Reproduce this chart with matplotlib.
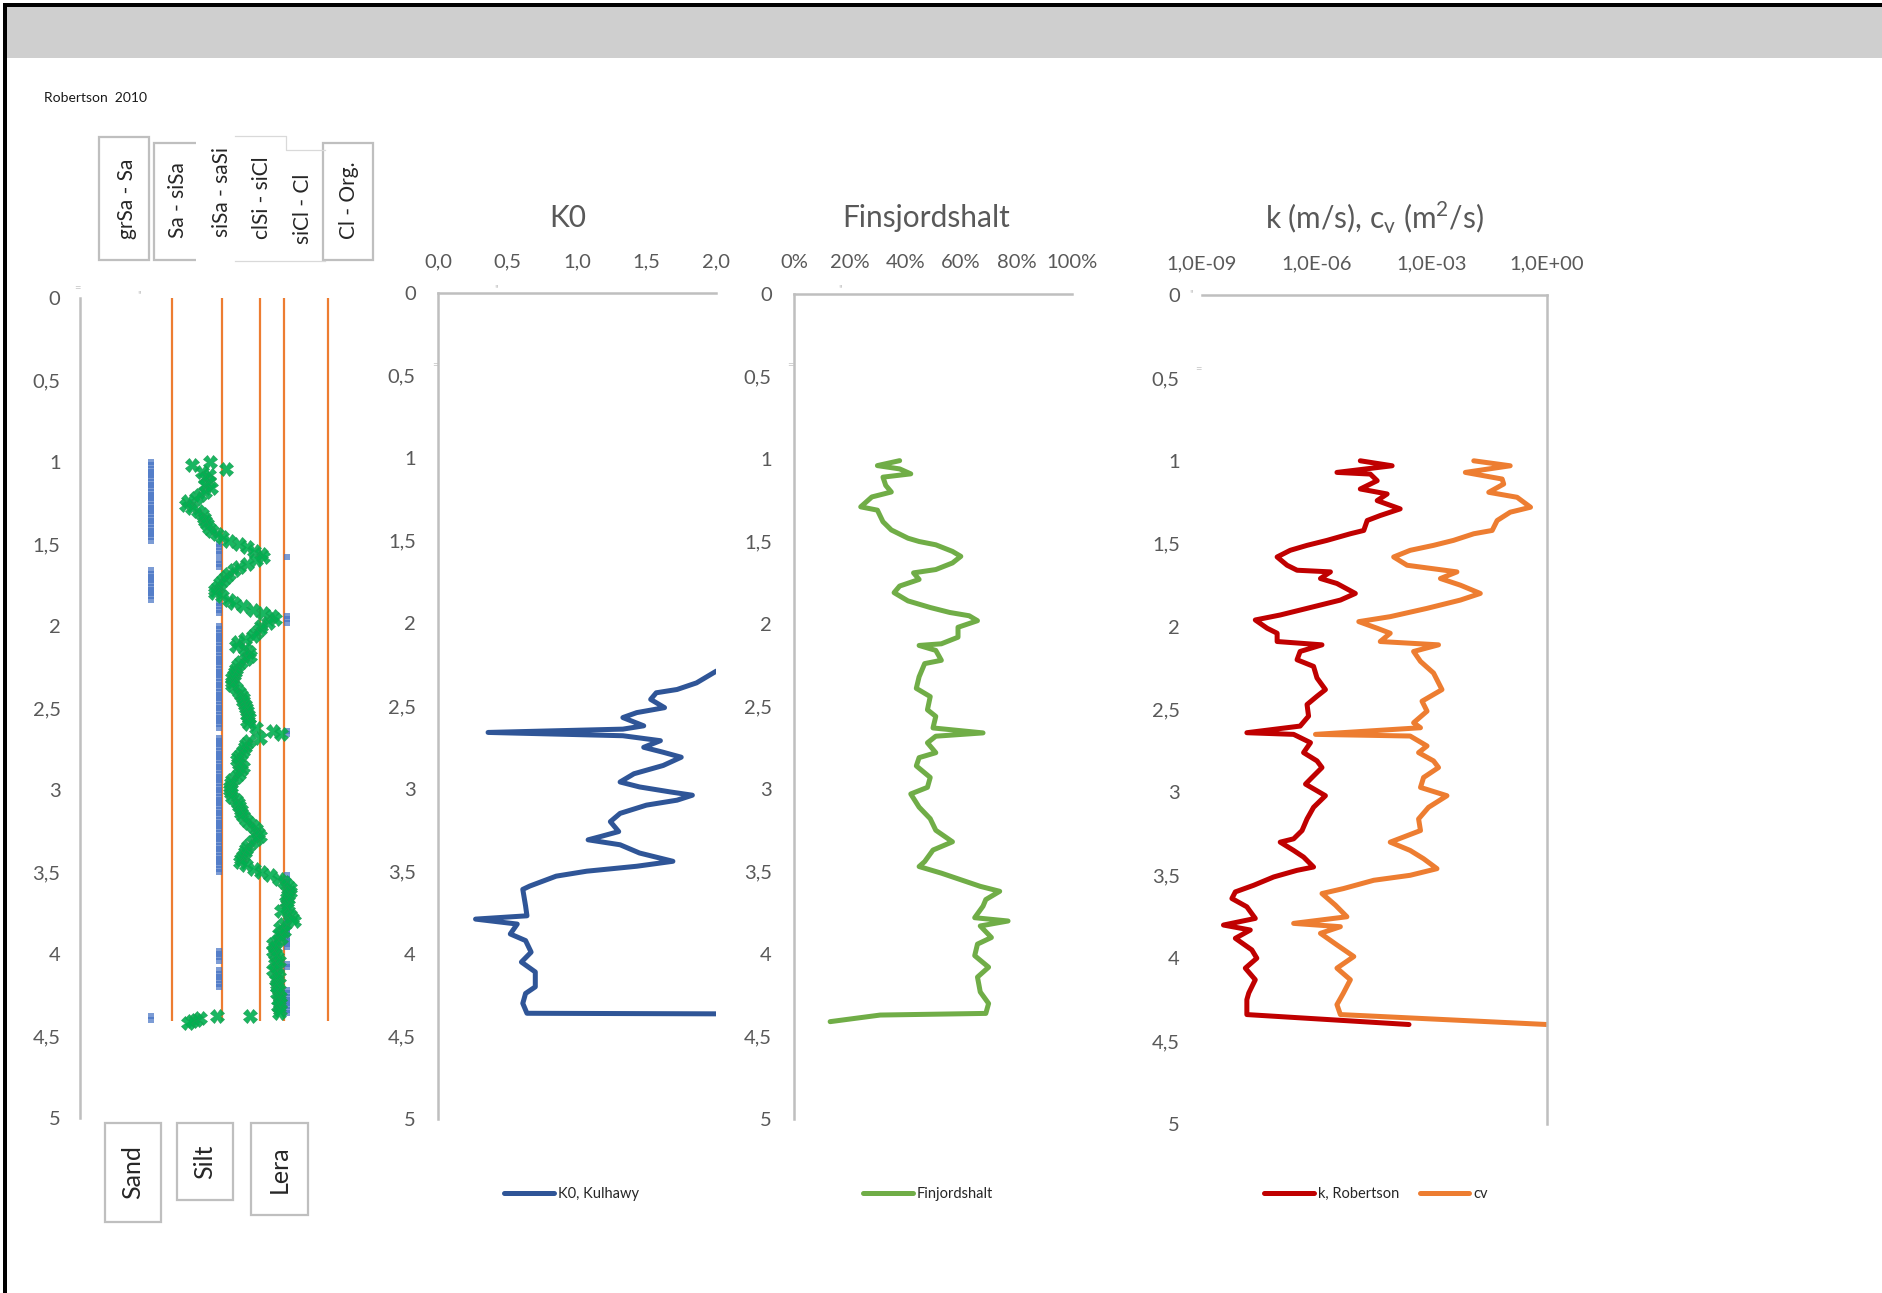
import numpy as np
import matplotlib
matplotlib.use("Agg")
import matplotlib.pyplot as plt
from matplotlib.patches import Rectangle
from matplotlib.lines import Line2D
from matplotlib.ticker import FixedLocator, FuncFormatter

plt.rcParams['font.family'] = ['Lato', 'DejaVu Sans']

# ---- soil behaviour (Robertson 2010), sampled every 0.02 m from 1.00 m ----
# 1 = sand, 2 = silt, 3 = clay ; (class, number of samples)
soil_runs = [(1, 25), (2, 4), (3, 1), (2, 3), (1, 10), (2, 4), (3, 3), (2, 32),
             (3, 2), (2, 42), (3, 23), (2, 4), (3, 2), (2, 6), (3, 8), (1, 2)]
class_depth = np.round(np.arange(1.0, 4.41, 0.02), 2)

# Ic values 1.00 - 4.36 m
ic_values = [
    1.87, 1.60, 2.10, 1.75, 1.85, 1.80, 1.85, 1.80, 1.88, 1.80,
    1.72, 1.66, 1.55, 1.52, 1.60, 1.70, 1.75, 1.78, 1.80, 1.83,
    1.86, 1.90, 1.97, 2.05, 2.15, 2.30, 2.42, 2.52, 2.62, 2.65,
    2.55, 2.42, 2.30, 2.22, 2.15, 2.10, 2.06, 2.02, 1.98, 1.94,
    1.95, 2.05, 2.15, 2.22, 2.35, 2.50, 2.65, 2.78, 2.82, 2.72,
    2.62, 2.60, 2.55, 2.50, 2.38, 2.28, 2.25, 2.38, 2.45, 2.46,
    2.40, 2.33, 2.28, 2.25, 2.24, 2.22, 2.20, 2.19, 2.20, 2.25,
    2.30, 2.33, 2.36, 2.36, 2.38, 2.40, 2.42, 2.43, 2.44, 2.42,
    2.45, 2.55, 2.80, 2.92, 2.60, 2.45, 2.40, 2.38, 2.35, 2.32,
    2.28, 2.26, 2.30, 2.35, 2.33, 2.30, 2.25, 2.20, 2.18, 2.17,
    2.16, 2.18, 2.20, 2.25, 2.28, 2.30, 2.32, 2.33, 2.36, 2.40,
    2.45, 2.50, 2.55, 2.58, 2.60, 2.55, 2.48, 2.43, 2.40, 2.38,
    2.35, 2.32, 2.31, 2.40, 2.52, 2.62, 2.75, 2.88, 2.95, 3.00,
    3.04, 3.05, 3.02, 3.00, 2.98, 3.02, 3.00, 2.92, 3.05, 3.08,
    3.10, 2.95, 2.90, 2.95, 2.88, 2.92, 2.85, 2.80, 2.82, 2.80,
    2.82, 2.85, 2.88, 2.82, 2.85, 2.80, 2.85, 2.88, 2.84, 2.86,
    2.85, 2.88, 2.86, 2.90, 2.88, 2.90, 2.87, 2.90, 2.88,
]
ic_depth = class_depth[:len(ic_values)]
ic_tail_depth = [4.38, 4.38, 4.39, 4.40, 4.41, 4.42]
ic_tail = [2.46, 1.97, 1.72, 1.66, 1.60, 1.54]

ic_bounds = [1.31, 2.05, 2.60, 2.95, 3.60]
ic_bound_depth = 4.41
zone_labels = ['grSa - Sa', 'Sa - siSa', 'siSa - saSi', 'clSi - siCl', 'siCl - Cl', 'Cl - Org.']

# ---- K0 (Kulhawy) ----
k0_depth = [2.20, 2.29, 2.36, 2.40, 2.42, 2.46, 2.51, 2.54, 2.57, 2.62, 2.64, 2.66, 2.68,
            2.71, 2.75, 2.78, 2.81, 2.86, 2.91, 2.96, 2.99, 3.02, 3.04, 3.07, 3.10, 3.15,
            3.20, 3.26, 3.29, 3.31, 3.34, 3.39, 3.44, 3.47, 3.50, 3.53, 3.59, 3.61, 3.71,
            3.77, 3.79, 3.82, 3.88, 3.92, 3.99, 4.05, 4.11, 4.20, 4.24, 4.30, 4.36, 4.365]
k0 = [2.30, 2.00, 1.86, 1.72, 1.57, 1.53, 1.63, 1.43, 1.33, 1.48, 1.33, 0.36, 1.33,
      1.60, 1.48, 1.62, 1.75, 1.62, 1.41, 1.31, 1.45, 1.67, 1.83, 1.72, 1.50, 1.31,
      1.24, 1.30, 1.17, 1.08, 1.31, 1.45, 1.69, 1.43, 1.07, 0.85, 0.66, 0.61, 0.63,
      0.64, 0.27, 0.57, 0.52, 0.63, 0.67, 0.60, 0.70, 0.70, 0.63, 0.61, 0.64, 2.60]

# ---- fines content ----
fines_depth = [1.01, 1.04, 1.06, 1.09, 1.11, 1.16, 1.20, 1.23, 1.29, 1.31, 1.38, 1.43, 1.48,
               1.50, 1.52, 1.56, 1.59, 1.63, 1.67, 1.69, 1.73, 1.77, 1.81, 1.86, 1.90, 1.93,
               1.95, 1.98, 2.02, 2.08, 2.12, 2.13, 2.16, 2.22, 2.24, 2.32, 2.39, 2.44, 2.52,
               2.56, 2.63, 2.66, 2.68, 2.72, 2.78, 2.81, 2.86, 2.93, 2.99, 3.03, 3.11, 3.18,
               3.25, 3.32, 3.37, 3.44, 3.47, 3.51, 3.55, 3.59, 3.62, 3.67, 3.71, 3.78, 3.80,
               3.83, 3.90, 3.94, 4.01, 4.08, 4.14, 4.23, 4.30, 4.36, 4.37, 4.41]
fines = [0.38, 0.30, 0.38, 0.42, 0.32, 0.33, 0.35, 0.28, 0.24, 0.30, 0.32, 0.35, 0.41,
         0.45, 0.51, 0.57, 0.60, 0.57, 0.51, 0.43, 0.45, 0.38, 0.36, 0.41, 0.49, 0.56,
         0.63, 0.66, 0.59, 0.59, 0.53, 0.45, 0.51, 0.53, 0.47, 0.45, 0.44, 0.49, 0.48,
         0.51, 0.50, 0.68, 0.51, 0.48, 0.51, 0.45, 0.44, 0.49, 0.48, 0.42, 0.45, 0.49,
         0.51, 0.57, 0.50, 0.47, 0.45, 0.53, 0.60, 0.67, 0.74, 0.69, 0.68, 0.65, 0.77,
         0.67, 0.71, 0.66, 0.65, 0.70, 0.66, 0.67, 0.70, 0.69, 0.31, 0.13]

# ---- permeability k (m/s) and cv (m2/s), log10 values ----
k_depth = [1.00, 1.03, 1.07, 1.08, 1.12, 1.17, 1.20, 1.24, 1.29, 1.33, 1.36, 1.42, 1.44,
           1.48, 1.51, 1.54, 1.58, 1.63, 1.66, 1.67, 1.71, 1.74, 1.80, 1.84, 1.89, 1.93,
           1.96, 2.01, 2.04, 2.09, 2.11, 2.15, 2.20, 2.24, 2.31, 2.38, 2.42, 2.47, 2.54,
           2.60, 2.64, 2.65, 2.70, 2.76, 2.81, 2.85, 2.91, 2.95, 3.02, 3.09, 3.16, 3.23,
           3.28, 3.30, 3.35, 3.39, 3.45, 3.47, 3.51, 3.56, 3.60, 3.64, 3.69, 3.76, 3.80,
           3.83, 3.88, 3.95, 4.00, 4.06, 4.13, 4.21, 4.25, 4.34, 4.40]
k_log = [-4.87, -4.04, -5.48, -4.61, -4.43, -4.87, -4.17, -4.43, -3.83, -4.35, -4.69, -4.78, -5.13,
         -5.74, -6.26, -6.70, -7.04, -6.78, -6.52, -5.65, -5.91, -5.48, -5.00, -5.39, -6.26, -6.96,
         -7.61, -7.30, -7.04, -7.04, -5.87, -6.44, -6.52, -6.09, -6.00, -5.78, -6.00, -6.26, -6.22,
         -6.44, -7.83, -6.61, -6.17, -6.35, -6.00, -5.87, -6.13, -6.30, -5.78, -6.09, -6.26, -6.39,
         -6.61, -6.96, -6.61, -6.35, -6.09, -6.52, -7.13, -7.65, -8.13, -8.22, -7.83, -7.61, -8.44,
         -7.74, -8.13, -7.70, -7.57, -7.87, -7.61, -7.78, -7.83, -7.83, -3.60]
cv_depth = [1.00, 1.03, 1.07, 1.11, 1.14, 1.19, 1.22, 1.28, 1.31, 1.36, 1.42, 1.44, 1.48,
            1.51, 1.54, 1.58, 1.63, 1.67, 1.71, 1.75, 1.80, 1.84, 1.89, 1.94, 1.97, 2.01,
            2.04, 2.09, 2.11, 2.15, 2.21, 2.28, 2.38, 2.45, 2.51, 2.58, 2.61, 2.65, 2.66,
            2.72, 2.76, 2.81, 2.85, 2.91, 2.97, 3.02, 3.09, 3.16, 3.23, 3.30, 3.35, 3.40,
            3.46, 3.50, 3.53, 3.58, 3.61, 3.68, 3.75, 3.79, 3.81, 3.85, 3.92, 3.99, 4.06,
            4.13, 4.21, 4.28, 4.34, 4.40]
cv_log = [-1.91, -0.96, -2.13, -1.17, -1.13, -1.52, -0.78, -0.43, -0.96, -1.30, -1.43, -1.91, -2.44,
          -2.96, -3.57, -4.00, -3.65, -2.35, -2.78, -2.26, -1.74, -2.26, -3.13, -4.09, -4.91, -4.43,
          -4.09, -4.35, -2.83, -3.48, -3.30, -2.96, -2.74, -3.26, -3.13, -3.48, -3.30, -6.04, -3.57,
          -3.13, -3.35, -2.96, -2.83, -3.22, -3.30, -2.61, -3.09, -3.35, -3.30, -4.09, -3.57, -3.22,
          -2.87, -3.57, -4.52, -5.31, -5.87, -5.52, -5.22, -6.61, -5.39, -5.91, -5.48, -5.04, -5.48,
          -5.13, -5.31, -5.48, -5.39, 0.0]

depth_ticks = [0, 0.5, 1, 1.5, 2, 2.5, 3, 3.5, 4, 4.5, 5]

GRAY_TXT = '#595959'
SPINE = '#BFBFBF'
LIGHT = '#D9D9D9'
W, H = 1883, 1293


def px_rect(left, top, right, bottom):
    return [left / W, 1 - bottom / H, (right - left) / W, (bottom - top) / H]


def comma(v, _=None):
    return f"{v:g}".replace('.', ',')


def depth_axis(ax, pad=16):
    ax.set_ylim(5, 0)
    ax.set_facecolor('none')
    ax.yaxis.set_major_locator(FixedLocator(depth_ticks))
    ax.yaxis.set_major_formatter(FuncFormatter(comma))
    ax.tick_params(axis='y', length=0, pad=pad, labelsize=14.5, labelcolor=GRAY_TXT)
    for s in ax.spines.values():
        s.set_visible(False)
        s.set_color(SPINE)
        s.set_linewidth(1.8)


def top_axis(ax):
    ax.xaxis.tick_top()
    ax.tick_params(axis='x', length=0, pad=16.5, labelsize=14.5, labelcolor=GRAY_TXT)


fig = plt.figure(figsize=(W / 100, H / 100), dpi=100)
fig.patch.set_facecolor('white')

# page furniture drawn in pixel coordinates
bg = fig.add_axes([0, 0, 1, 1])
bg.set_xlim(0, W)
bg.set_ylim(H, 0)
bg.axis('off')
bg.add_patch(Rectangle((7, 7), W - 7, 51, facecolor='#CFCFCF', edgecolor='none'))
bg.add_patch(Rectangle((3, 3), W - 3, 4, facecolor='black', edgecolor='none'))
bg.add_patch(Rectangle((3, 3), 4, H - 3, facecolor='black', edgecolor='none'))
bg.text(44, 98, 'Robertson  2010', fontsize=10, va='center', color='#1a1a1a')


def box(l, t, r, b, ec=SPINE, lw=1.6, fc='white'):
    bg.add_patch(Rectangle((l, t), r - l, b - t, facecolor=fc, edgecolor=ec, linewidth=lw))


# zone header boxes
box(99, 137, 149, 260)
box(154, 143, 215, 260)
box(196, 135, 325, 262, ec='none')
bg.plot([235, 286, 286, 325], [136, 136, 150, 150], color=LIGHT, lw=0.9)
bg.plot([235, 325], [261, 261], color=LIGHT, lw=0.9)
box(323, 143, 373, 260)
for lab, (cx, cy) in zip(zone_labels, [(127, 199), (178, 200), (222, 192),
                                       (262, 198), (303, 209), (349, 200)]):
    bg.text(cx, cy, lab, rotation=90, ha='center', va='center', fontsize=15, color='#262626')

# soil group boxes under the profile
for lab, (l, t, r, b) in zip(['Sand', 'Silt', 'Lera'],
                             [(105, 1123, 161, 1222), (177, 1123, 233, 1200), (251, 1123, 308, 1215)]):
    box(l, t, r, b)
    bg.text((l + r) / 2, (t + b) / 2, lab, rotation=90, ha='center', va='center',
            fontsize=18, color='#262626')

# small leftover marks near the axis origins
for x, y, s in [(77, 288, '='), (140, 295, "''"), (497, 289, "''"), (435, 365, '='),
                (841, 289, "''"), (790, 365, '='), (1192, 294, "''"), (1198, 369, '=')]:
    bg.text(x, y, s, fontsize=8, color='#C8C8C8', ha='center', va='center')

# panel titles
bg.text(568, 218, 'K0', fontsize=21.5, color=GRAY_TXT, ha='center', va='center')
bg.text(926, 218, 'Finsjordshalt', fontsize=21.5, color=GRAY_TXT, ha='center', va='center')
bg.text(1375, 218, r'k (m/s), c$_\mathregular{v}$ (m$^\mathregular{2}$/s)', fontsize=21.5,
        color=GRAY_TXT, ha='center', va='center')

# ---- panel 1: soil behaviour profile ----
ax1 = fig.add_axes(px_rect(80, 298, 355, 1118))
depth_axis(ax1, pad=14)
ax1.spines['left'].set_visible(True)
ax1.set_xlim(-0.04, 4.0)
ax1.set_xticks([])
ax1.vlines(ic_bounds, 0, ic_bound_depth, color='#ED7D31', lw=1.6, zorder=1)
soil_class = np.repeat([c for c, n in soil_runs], [n for c, n in soil_runs])
ax1.plot(soil_class, class_depth, ls='none', marker='s', ms=4.2, mew=0,
         color='#4472C4', alpha=0.7, zorder=2)
ax1.plot(np.concatenate([ic_values, ic_tail]), np.concatenate([ic_depth, ic_tail_depth]),
         ls='none', marker='X', ms=9.5, mew=0.5, mfc='#00B050', mec='#1E9E55', alpha=0.9, zorder=3)

# ---- panel 2: K0 ----
ax2 = fig.add_axes(px_rect(438, 293, 716, 1119))
depth_axis(ax2)
ax2.spines['left'].set_visible(True)
ax2.spines['top'].set_visible(True)
top_axis(ax2)
ax2.set_xlim(0, 2)
ax2.xaxis.set_major_locator(FixedLocator([0, 0.5, 1, 1.5, 2]))
ax2.xaxis.set_major_formatter(FuncFormatter(lambda v, _: f"{v:.1f}".replace('.', ',')))
ax2.plot(k0, k0_depth, color='#2F5597', lw=3.6, solid_joinstyle='round', solid_capstyle='round')

# ---- panel 3: fines content ----
ax3 = fig.add_axes(px_rect(794, 294, 1072, 1119))
depth_axis(ax3)
ax3.spines['left'].set_visible(True)
ax3.spines['top'].set_visible(True)
top_axis(ax3)
ax3.set_xlim(0, 1)
ax3.xaxis.set_major_locator(FixedLocator([0, 0.2, 0.4, 0.6, 0.8, 1.0]))
ax3.xaxis.set_major_formatter(FuncFormatter(lambda v, _: f"{v * 100:.0f}%"))
ax3.plot(fines, fines_depth, color='#70AD47', lw=3.6, solid_joinstyle='round', solid_capstyle='round')

# ---- panel 4: k and cv ----
ax4 = fig.add_axes(px_rect(1202, 295, 1547, 1124))
depth_axis(ax4)
ax4.spines['right'].set_visible(True)
ax4.spines['top'].set_visible(True)
top_axis(ax4)
ax4.set_xscale('log')
ax4.set_xlim(1e-9, 1e0)
ax4.xaxis.set_major_locator(FixedLocator([1e-9, 1e-6, 1e-3, 1e0]))
ax4.xaxis.set_minor_locator(FixedLocator([]))
ax4.xaxis.set_major_formatter(FuncFormatter(lambda v, _: f"{v:.1E}".replace('.', ',')))
ax4.plot(10.0 ** np.array(k_log), k_depth, color='#C00000', lw=3.6,
         solid_joinstyle='round', solid_capstyle='round')
ax4.plot(10.0 ** np.array(cv_log), cv_depth, color='#ED7D31', lw=3.6,
         solid_joinstyle='round', solid_capstyle='round')

# legends
leg_kw = dict(loc='center left', frameon=False, fontsize=10.5, handlelength=3.4,
              handletextpad=0.3, borderaxespad=0, borderpad=0, labelcolor='#262626')


def lh(c):
    return Line2D([], [], color=c, lw=3.6, solid_capstyle='round')


fig.legend([lh('#2F5597')], ['K0, Kulhawy'], bbox_to_anchor=(504 / W, 1 - 1194 / H), **leg_kw)
fig.legend([lh('#70AD47')], ['Finjordshalt'], bbox_to_anchor=(863 / W, 1 - 1194 / H), **leg_kw)
fig.legend([lh('#C00000'), lh('#ED7D31')], ['k, Robertson', 'cv'], ncol=2, columnspacing=1.4,
           bbox_to_anchor=(1264 / W, 1 - 1194 / H), **leg_kw)

fig.savefig('out.png', dpi=100)
